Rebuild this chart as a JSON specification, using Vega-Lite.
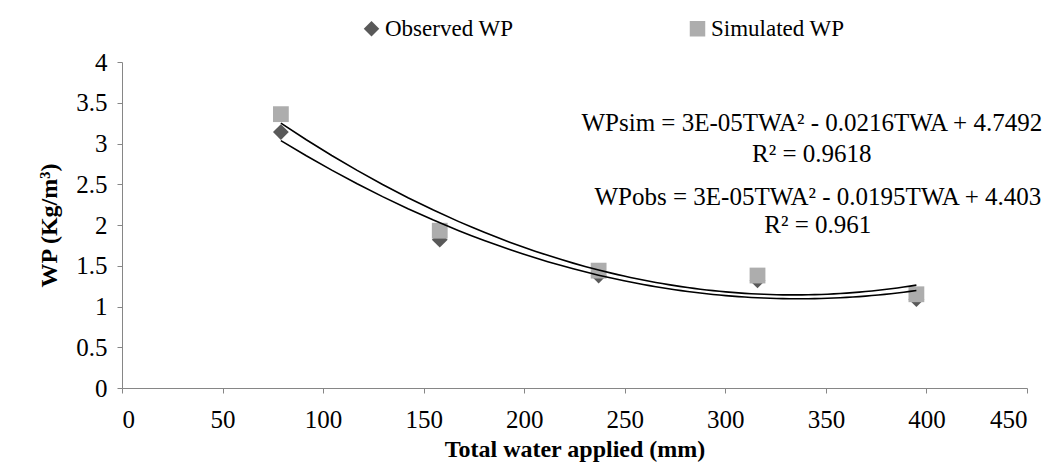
{
  "$schema": "https://vega.github.io/schema/vega-lite/v6.json",
  "autosize": "none",
  "width": 905,
  "height": 326,
  "padding": {"left": 122, "top": 62, "right": 25, "bottom": 88},
  "background": "white",
  "config": {
    "view": {"stroke": null},
    "font": "Liberation Serif",
    "axis": {
      "grid": false,
      "domainColor": "#868686",
      "tickColor": "#868686",
      "tickSize": 5,
      "labelFont": "Liberation Serif",
      "labelFontSize": 25,
      "labelColor": "#000000",
      "titleFont": "Liberation Serif",
      "titleFontSize": 24,
      "titleFontWeight": "bold",
      "titleColor": "#000000"
    },
    "legend": {
      "labelFont": "Liberation Serif",
      "labelFontSize": 23,
      "labelColor": "#000000"
    }
  },
  "datasets": {
    "pts": [
      {"twa": 79, "series": "Observed WP", "wp": 3.14},
      {"twa": 158, "series": "Observed WP", "wp": 1.82},
      {"twa": 237, "series": "Observed WP", "wp": 1.38},
      {"twa": 316, "series": "Observed WP", "wp": 1.32},
      {"twa": 395, "series": "Observed WP", "wp": 1.09},
      {"twa": 79, "series": "Simulated WP", "wp": 3.36},
      {"twa": 158, "series": "Simulated WP", "wp": 1.93},
      {"twa": 237, "series": "Simulated WP", "wp": 1.44},
      {"twa": 316, "series": "Simulated WP", "wp": 1.38},
      {"twa": 395, "series": "Simulated WP", "wp": 1.15}
    ],
    "notes": [
      {"tx": 343, "ty": 3.25, "label": "WPsim = 3E-05TWA² - 0.0216TWA + 4.7492"},
      {"tx": 343, "ty": 2.87, "label": "R² = 0.9618"},
      {"tx": 346, "ty": 2.34, "label": "WPobs = 3E-05TWA² - 0.0195TWA + 4.403"},
      {"tx": 346, "ty": 2.0, "label": "R² = 0.961"}
    ]
  },
  "layer": [
    {
      "data": {"name": "pts"},
      "mark": {"type": "point", "filled": true, "opacity": 1, "size": 250},
      "encoding": {
        "x": {
          "field": "twa", "type": "quantitative",
          "scale": {"domain": [0, 450], "nice": false},
          "axis": {"values": [0, 50, 100, 150, 200, 250, 300, 350, 400, 450], "title": "Total water applied (mm)", "labelPadding": 14, "titlePadding": 5}
        },
        "y": {
          "field": "wp", "type": "quantitative",
          "scale": {"domain": [0, 4], "nice": false},
          "axis": {"values": [0, 0.5, 1, 1.5, 2, 2.5, 3, 3.5, 4], "format": "~g", "title": "WP (Kg/m³)", "labelPadding": 10, "titlePadding": 14}
        },
        "shape": {
          "field": "series", "type": "nominal",
          "scale": {"domain": ["Observed WP", "Simulated WP"], "range": ["diamond", "square"]},
          "legend": {
            "title": null, "orient": "none", "direction": "horizontal",
            "legendX": 238, "legendY": -45,
            "symbolSize": 240, "symbolStrokeWidth": 0, "labelOffset": 2, "columnPadding": 172
          }
        },
        "color": {
          "field": "series", "type": "nominal",
          "scale": {"domain": ["Observed WP", "Simulated WP"], "range": ["#595959", "#ADADAD"]}
        }
      }
    },
    {
      "data": {"name": "pts"},
      "transform": [
        {"regression": "wp", "on": "twa", "groupby": ["series"], "method": "poly", "order": 2, "extent": [79, 395]}
      ],
      "mark": {"type": "line", "color": "#000000", "strokeWidth": 1.6},
      "encoding": {
        "x": {"field": "twa", "type": "quantitative"},
        "y": {"field": "wp", "type": "quantitative"},
        "detail": {"field": "series", "type": "nominal"}
      }
    },
    {
      "data": {"name": "notes"},
      "mark": {"type": "text", "font": "Liberation Serif", "fontSize": 25, "color": "#000000", "align": "center", "baseline": "middle"},
      "encoding": {
        "x": {"field": "tx", "type": "quantitative"},
        "y": {"field": "ty", "type": "quantitative"},
        "text": {"field": "label", "type": "nominal"}
      }
    }
  ]
}
